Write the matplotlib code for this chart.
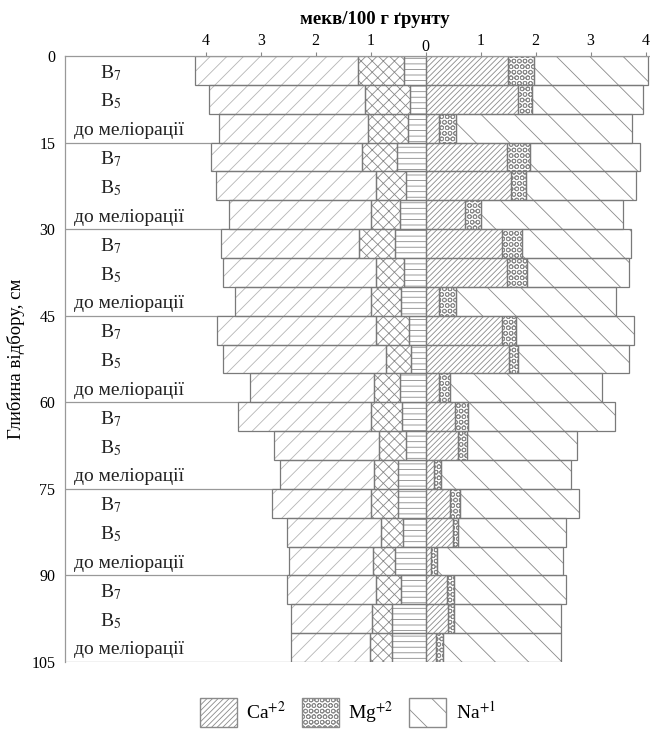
import numpy as np
import matplotlib.pyplot as plt
from matplotlib.patches import Patch

plt.rcParams['font.family'] = ['Liberation Serif', 'DejaVu Serif']
plt.rcParams['mathtext.fontset'] = 'stix'
plt.rcParams['hatch.linewidth'] = 0.6

# depth of each 5 cm layer (top of layer), three variants per 15 cm
depth_top = [0, 5, 10, 15, 20, 25, 30, 35, 40, 45, 50,
             55, 60, 65, 70, 75, 80, 85, 90, 95, 100]
variants = ['В$_7$', 'В$_5$', 'до меліорації'] * 7
depth_ticks = [0, 15, 30, 45, 60, 75, 90, 105]

# left side, from 0 outwards (мекв/100 г)
left_inner = [0.39, 0.29, 0.32, 0.53, 0.36, 0.47, 0.55, 0.40, 0.45, 0.31, 0.26,
              0.47, 0.43, 0.36, 0.50, 0.50, 0.42, 0.55, 0.45, 0.61, 0.61]
left_mid = [0.85, 0.81, 0.73, 0.62, 0.54, 0.52, 0.66, 0.51, 0.54, 0.60, 0.46,
            0.47, 0.56, 0.48, 0.44, 0.49, 0.40, 0.41, 0.46, 0.36, 0.41]
left_outer = [2.96, 2.84, 2.70, 2.75, 2.92, 2.59, 2.52, 2.77, 2.48, 2.88, 2.96,
              2.26, 2.42, 1.92, 1.71, 1.80, 1.71, 1.52, 1.62, 1.48, 1.43]

# right side: cations
ca = [1.50, 1.68, 0.25, 1.48, 1.56, 0.71, 1.39, 1.48, 0.25, 1.39, 1.51,
      0.24, 0.53, 0.58, 0.16, 0.44, 0.50, 0.09, 0.38, 0.41, 0.19]
mg = [0.47, 0.25, 0.30, 0.42, 0.26, 0.29, 0.37, 0.37, 0.31, 0.26, 0.17,
      0.21, 0.24, 0.17, 0.12, 0.18, 0.09, 0.12, 0.13, 0.10, 0.13]
na = [2.07, 2.02, 3.21, 1.99, 2.00, 2.58, 1.98, 1.85, 2.91, 2.13, 2.02,
      2.76, 2.67, 2.01, 2.37, 2.17, 1.96, 2.29, 2.04, 1.96, 2.15]

y = np.array(depth_top) + 2.5
li, lm, lo = np.array(left_inner), np.array(left_mid), np.array(left_outer)
ca, mg, na = np.array(ca), np.array(mg), np.array(na)

fig = plt.figure(figsize=(6.5, 7.37), dpi=100)
ax = fig.add_axes([65 / 650, 1 - 662 / 737, 585 / 650, (662 - 56) / 737])

hatch_col = '#8a8a8a'
edge_col = '#7a7a7a'

# separators between 15 cm groups (hidden behind bars)
ax.hlines(depth_ticks[1:], -6.56, 0, color='#999999', lw=0.9, zorder=0.5)

segments = [
    (-li, 0, '---'),
    (-lm, -li, 'xxx'),
    (-lo, -li - lm, '//'),
    (ca, 0, '//////'),
    (mg, ca, 'OOO'),
    (na, ca + mg, '\\'),
]
for width, left, hatch in segments:
    hc = '#b5b5b5' if hatch == '//' else hatch_col
    ax.barh(y, width, left=left, height=5, color='white', edgecolor=hc,
            linewidth=0, hatch=hatch, zorder=1)
    ax.barh(y, width, left=left, height=5, fill=False, edgecolor=edge_col,
            linewidth=0.9, zorder=2)

# variant names inside the plot
for yi, name in zip(y, variants):
    xpos = -6.40 if name.startswith('до') else -5.93
    ax.text(xpos, yi + 0.4, name, ha='left', va='center', fontsize=14,
            color='#222222')

ax.set_xlim(-6.56, 4.08)
ax.set_ylim(105, 0)
ax.xaxis.tick_top()
ax.set_xticks(range(-4, 5))
ax.set_xticklabels([str(abs(v)) for v in range(-4, 5)], fontsize=11.5)
ax.tick_params(axis='x', length=3, color='#888888', pad=2)
# the "0" label sits a little lower in the original
for tick in ax.xaxis.get_major_ticks():
    if tick.label2.get_text() == '0':
        tick.label2.set_y(0.99)
ax.set_yticks(depth_ticks)
ax.set_yticklabels([str(d) for d in depth_ticks], fontsize=11.5)
ax.tick_params(axis='y', length=0, pad=7)
for s in ['right', 'bottom']:
    ax.spines[s].set_visible(False)
for s in ['left', 'top']:
    ax.spines[s].set_color('#999999')
    ax.spines[s].set_linewidth(0.9)

ax.set_ylabel('Глибина відбору, см', fontsize=13.5)
ax.yaxis.set_label_coords(-0.068, 0.5)
fig.text(0.577, 0.973, 'мекв/100 г ґрунту', ha='center', va='center',
         fontsize=13.5, fontweight='bold')

handles = [Patch(facecolor='white', edgecolor=hatch_col, hatch='//////'),
           Patch(facecolor='white', edgecolor=hatch_col, hatch='OOO'),
           Patch(facecolor='white', edgecolor=hatch_col, hatch='\\')]
fig.legend(handles, ['Ca$^{+2}$', 'Mg$^{+2}$', 'Na$^{+1}$'], loc='lower center',
           bbox_to_anchor=(0.535, -0.01), ncol=3, frameon=False, fontsize=14,
           handlelength=1.9, handleheight=1.9, columnspacing=0.8,
           handletextpad=0.5)

plt.savefig('out.png', dpi=100)
